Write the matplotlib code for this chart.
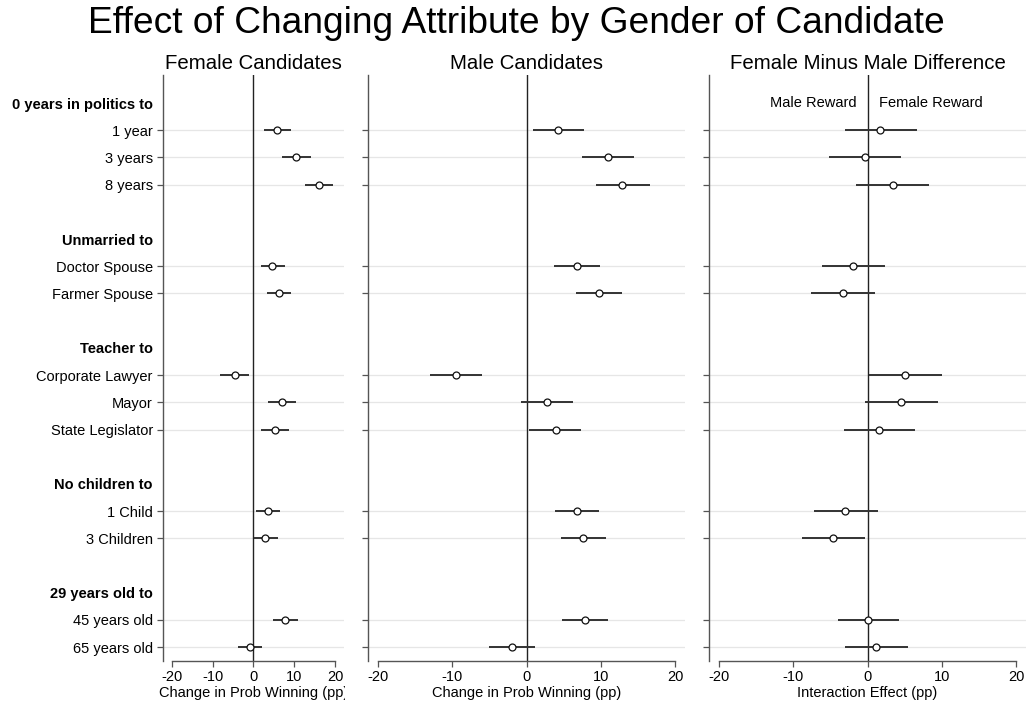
import numpy as np
import matplotlib
matplotlib.use("Agg")
import matplotlib.pyplot as plt
from matplotlib.transforms import Bbox

plt.rcParams['font.family'] = ['Liberation Sans', 'DejaVu Sans']

# attribute groups: header + levels
headers = ["0 years in politics to", "Unmarried to", "Teacher to",
           "No children to", "29 years old to"]
levels = [["1 year", "3 years", "8 years"],
          ["Doctor Spouse", "Farmer Spouse"],
          ["Corporate Lawyer", "Mayor", "State Legislator"],
          ["1 Child", "3 Children"],
          ["45 years old", "65 years old"]]

# estimates and 95% CIs, one entry per level (top to bottom)
female_est = [5.8, 10.4, 16.1, 4.6, 6.3, -4.6, 7.0, 5.2, 3.6, 2.8, 7.8, -0.9]
female_lo = [2.6, 7.0, 12.6, 1.8, 3.4, -8.1, 3.6, 1.9, 0.7, 0.1, 4.8, -3.9]
female_hi = [9.3, 14.0, 19.6, 7.7, 9.3, -1.1, 10.4, 8.8, 6.6, 5.9, 10.8, 2.2]

male_est = [4.3, 10.9, 12.9, 6.8, 9.8, -9.5, 2.7, 3.9, 6.8, 7.6, 7.8, -2.0]
male_lo = [0.9, 7.5, 9.3, 3.7, 6.7, -13.0, -0.8, 0.4, 3.8, 4.6, 4.8, -5.1]
male_hi = [7.7, 14.4, 16.6, 9.9, 12.9, -6.0, 6.2, 7.3, 9.8, 10.7, 10.9, 1.2]

diff_est = [1.7, -0.35, 3.4, -2.0, -3.3, 5.1, 4.5, 1.6, -3.0, -4.6, 0.1, 1.2]
diff_lo = [-3.0, -5.2, -1.6, -6.1, -7.6, 0.2, -0.4, -3.2, -7.2, -8.8, -4.0, -3.0]
diff_hi = [6.6, 4.5, 8.3, 2.3, 1.0, 10.0, 9.5, 6.4, 1.4, -0.4, 4.3, 5.5]

xticks = [-20, -10, 0, 10, 20]

# row layout: header row, level rows, blank row between groups
tick_pos, tick_lab, is_head, data_pos = [], [], [], []
r = 0
for h, lv in zip(headers, levels):
    tick_pos.append(r); tick_lab.append(h); is_head.append(True)
    r += 1
    for name in lv:
        tick_pos.append(r); tick_lab.append(name); is_head.append(False)
        data_pos.append(r)
        r += 1
    r += 1
data_pos = np.array(data_pos)

W, H = 1029, 706
fig = plt.figure(figsize=(W / 100, H / 100), dpi=100)

fs = 10.5
top, bot = 75, 660.5
panels = [(163, 344, 22.2, "Female Candidates", "Change in Prob Winning (pp)",
           female_est, female_lo, female_hi),
          (368, 685, 21.3, "Male Candidates", "Change in Prob Winning (pp)",
           male_est, male_lo, male_hi),
          (709, 1026, 21.3, "Female Minus Male Difference", "Interaction Effect (pp)",
           diff_est, diff_lo, diff_hi)]

spine_col = "#555555"
axes = []
for i, (x0, x1, xl, title, xlab, est, lo, hi) in enumerate(panels):
    ax = fig.add_axes([x0 / W, (H - bot) / H, (x1 - x0) / W, (bot - top) / H])
    axes.append(ax)
    ax.set_xlim(-xl, xl)
    ax.set_ylim(20.49, -1.03)
    for y in data_pos:
        ax.axhline(y, color="#e6e6e6", lw=0.9, zorder=0)
    ax.axvline(0, color="#222222", lw=1.0, zorder=1)
    ax.hlines(data_pos, lo, hi, color="#333333", lw=1.4, zorder=2)
    ax.plot(est, data_pos, "o", ms=5.0, mfc="white", mec="#111111", mew=0.9, zorder=3)

    for s in ["top", "right"]:
        ax.spines[s].set_visible(False)
    ax.spines["left"].set_color(spine_col)
    ax.spines["bottom"].set_color(spine_col)
    ax.spines["bottom"].set_bounds(-20, 20)
    ax.spines["left"].set_linewidth(1.0)
    ax.spines["bottom"].set_linewidth(1.0)

    ax.set_xticks(xticks)
    ax.set_xticklabels([str(t) for t in xticks])
    ax.tick_params(axis="x", length=4.5, width=0.9, color=spine_col, pad=2.0, labelsize=fs)
    ax.set_xlabel(xlab, fontsize=fs, labelpad=2.0)

    ax.set_yticks(tick_pos)
    ax.tick_params(axis="y", length=4.3, width=0.9, color=spine_col, pad=3, labelsize=fs)
    if i == 0:
        ax.set_yticklabels(tick_lab)
        for t, lab, hd in zip(ax.yaxis.get_major_ticks(), ax.get_yticklabels(), is_head):
            if hd:
                t.tick1line.set_visible(False)
                lab.set_fontweight("bold")
    else:
        ax.set_yticklabels([])
        for t, hd in zip(ax.yaxis.get_major_ticks(), is_head):
            if hd:
                t.tick1line.set_visible(False)

    ax.set_title(title, fontsize=14.7, pad=4.5)

# first panel's axis title is cut at the panel edge
lab0 = axes[0].xaxis.label
lab0.set_clip_box(Bbox.from_extents(0, 0, 345, H))
lab0.set_clip_on(True)

axes[2].text(-1.4, 0, "Male Reward", ha="right", va="center", fontsize=fs)
axes[2].text(1.5, 0, "Female Reward", ha="left", va="center", fontsize=fs)

fig.text(516 / W, (H - 33) / H, "Effect of Changing Attribute by Gender of Candidate",
         ha="center", va="baseline", fontsize=26.7)

fig.savefig("out.png", dpi=100)
